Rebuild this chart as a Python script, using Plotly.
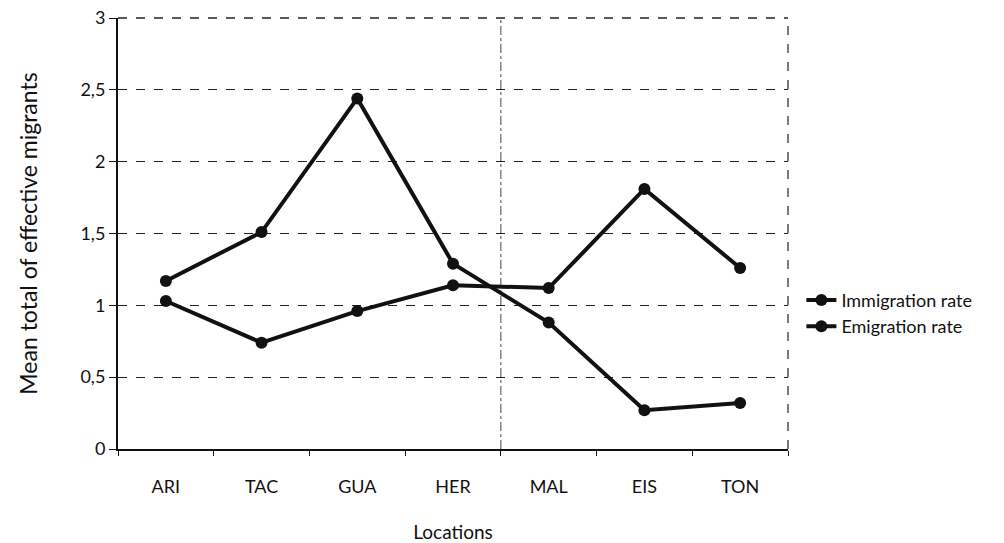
import plotly.graph_objects as go

locations = ["ARI", "TAC", "GUA", "HER", "MAL", "EIS", "TON"]
immigration = [1.17, 1.51, 2.44, 1.29, 0.88, 0.27, 0.32]
emigration = [1.03, 0.74, 0.96, 1.14, 1.12, 1.81, 1.26]
y_tickvals = [0, 0.5, 1, 1.5, 2, 2.5, 3]
y_ticktext = ["0", "0,5", "1", "1,5", "2", "2,5", "3"]

FONT = "Lato, 'Open Sans', sans-serif"
INK = "#111111"

fig = go.Figure()
fig.add_trace(go.Scatter(x=locations, y=immigration, name="Immigration rate",
                         mode="lines+markers",
                         line=dict(color=INK, width=4),
                         marker=dict(color=INK, size=12)))
fig.add_trace(go.Scatter(x=locations, y=emigration, name="Emigration rate",
                         mode="lines+markers",
                         line=dict(color=INK, width=4),
                         marker=dict(color=INK, size=12)))

# separator between HER and MAL, dashed right border and top gridline
fig.add_shape(type="line", xref="x", yref="paper", x0=3.5, x1=3.5, y0=0, y1=1,
              line=dict(color="#444", width=1, dash="dashdot"), layer="below")
fig.add_shape(type="line", xref="paper", yref="paper", x0=1, x1=1, y0=0, y1=1,
              line=dict(color="#222", width=1.2, dash="dash"), layer="below")
fig.add_shape(type="line", xref="paper", yref="paper", x0=0, x1=1, y0=1, y1=1,
              line=dict(color="#222", width=1.4, dash="dash"), layer="below")

fig.update_layout(
    width=1004, height=543,
    margin=dict(l=118, r=216, t=18, b=94),
    paper_bgcolor="white", plot_bgcolor="white",
    font=dict(family=FONT, color=INK, size=18),
    showlegend=True,
    legend=dict(x=1.02, y=0.315, xanchor="left", yanchor="middle",
                font=dict(size=18, color=INK), tracegroupgap=0,
                bgcolor="rgba(0,0,0,0)", itemwidth=30),
    xaxis=dict(
        type="category", tickson="boundaries", ticks="outside", ticklen=5,
        tickcolor=INK, showgrid=False, showline=True, linecolor=INK, linewidth=2,
        range=[-0.5, 6.5], tickfont=dict(size=18, color=INK),
        ticklabelstandoff=20, automargin=False,
        title=dict(text="Locations", font=dict(size=19, color=INK), standoff=32),
        zeroline=False,
    ),
    yaxis=dict(
        range=[0, 3], tickvals=y_tickvals, ticktext=y_ticktext,
        ticks="outside", ticklen=7, tickcolor=INK, automargin=False,
        showgrid=True, gridcolor="#222", griddash="dash", gridwidth=1.2,
        showline=True, linecolor=INK, linewidth=2, zeroline=False,
        tickfont=dict(size=18, color=INK),
        title=dict(text="Mean total of effective migrants", font=dict(size=23, color=INK), standoff=36),
    ),
)

fig.write_html("out.html")
